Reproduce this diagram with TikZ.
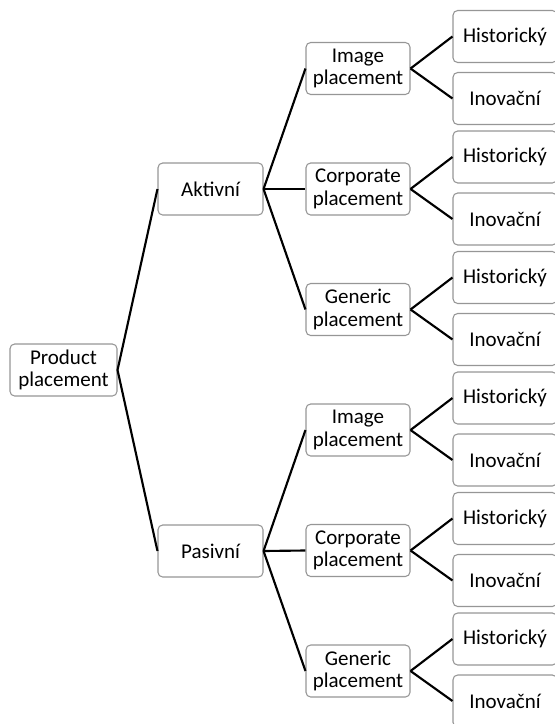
\documentclass[tikz,border=0pt]{standalone}
\usepackage{fontspec}
\setmainfont{Carlito}
\definecolor{boxgray}{RGB}{150,150,150}
\tikzset{every picture/.style={line width=0.75pt}}
\tikzset{
  tbox/.style={draw=boxgray, line width=0.8pt, rounded corners=3.5pt, fill=white,
    align=center, inner sep=0pt, minimum width=78pt, minimum height=39pt,
    font=\fontsize{15.75}{17}\selectfont},
  conn/.style={line width=1.6pt, black}
}

\begin{document}
\begin{tikzpicture}[x=0.75pt,y=0.75pt,yscale=-1,xscale=1]
	\useasboundingbox (0,0) rectangle (554,724);

	% Root
	\node [tbox, minimum width=80.25pt] (root) at (63.5,370) {Product\\placement};
	% Level 1
	\node [tbox, minimum width=78.75pt] (akt) at (210.5,189) {Aktivní};
	\node [tbox, minimum width=78.75pt] (pas) at (210.5,551) {Pasivní};

	% Level 2 -- Aktivní
	\node [tbox] (aktImg) at (358,68.5) {Image\\placement};
	\node [tbox] (aktCorp) at (358,189) {Corporate\\placement};
	\node [tbox] (aktGen) at (358,309.5) {Generic\\placement};
	% Level 2 -- Pasivní
	\node [tbox] (pasImg) at (358,430) {Image\\placement};
	\node [tbox] (pasCorp) at (358,550.5) {Corporate\\placement};
	\node [tbox] (pasGen) at (358,671) {Generic\\placement};

	% Level 3
	\node [tbox] (aktImgH) at (505,36.5) {Historický};
	\node [tbox] (aktImgI) at (505,98.5) {Inovační};
	\node [tbox] (aktCorpH) at (505,157) {Historický};
	\node [tbox] (aktCorpI) at (505,219) {Inovační};
	\node [tbox] (aktGenH) at (505,277.5) {Historický};
	\node [tbox] (aktGenI) at (505,339.5) {Inovační};
	\node [tbox] (pasImgH) at (505,398) {Historický};
	\node [tbox] (pasImgI) at (505,460) {Inovační};
	\node [tbox] (pasCorpH) at (505,518.5) {Historický};
	\node [tbox] (pasCorpI) at (505,580.5) {Inovační};
	\node [tbox] (pasGenH) at (505,639) {Historický};
	\node [tbox] (pasGenI) at (505,701) {Inovační};

	% Connectors
	\draw [conn] (root.east) -- (akt.west);
	\draw [conn] (root.east) -- (pas.west);

	\draw [conn] (akt.east) -- (aktImg.west);
	\draw [conn] (akt.east) -- (aktCorp.west);
	\draw [conn] (akt.east) -- (aktGen.west);
	\draw [conn] (pas.east) -- (pasImg.west);
	\draw [conn] (pas.east) -- (pasCorp.west);
	\draw [conn] (pas.east) -- (pasGen.west);

	\draw [conn] (aktImg.east) -- (aktImgH.west);
	\draw [conn] (aktImg.east) -- (aktImgI.west);
	\draw [conn] (aktCorp.east) -- (aktCorpH.west);
	\draw [conn] (aktCorp.east) -- (aktCorpI.west);
	\draw [conn] (aktGen.east) -- (aktGenH.west);
	\draw [conn] (aktGen.east) -- (aktGenI.west);
	\draw [conn] (pasImg.east) -- (pasImgH.west);
	\draw [conn] (pasImg.east) -- (pasImgI.west);
	\draw [conn] (pasCorp.east) -- (pasCorpH.west);
	\draw [conn] (pasCorp.east) -- (pasCorpI.west);
	\draw [conn] (pasGen.east) -- (pasGenH.west);
	\draw [conn] (pasGen.east) -- (pasGenI.west);

\end{tikzpicture}
\end{document}
